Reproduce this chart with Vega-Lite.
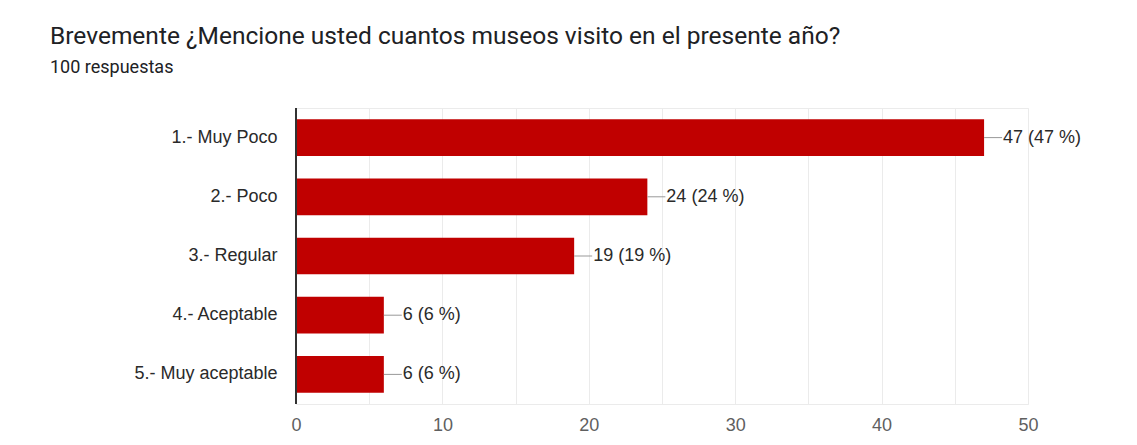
{
  "$schema": "https://vega.github.io/schema/vega-lite/v6.json",
  "width": 732,
  "height": 296,
  "autosize": {"type": "none"},
  "padding": {"left": 296, "top": 108, "right": 109, "bottom": 41},
  "background": "white",
  "title": {
    "text": "Brevemente ¿Mencione usted cuantos museos visito en el presente año?",
    "subtitle": "100 respuestas",
    "anchor": "start",
    "frame": "group",
    "dx": -246,
    "offset": 29,
    "font": "Roboto",
    "fontSize": 24.5,
    "fontWeight": "normal",
    "color": "#202124",
    "subtitleFont": "Roboto",
    "subtitleFontSize": 18,
    "subtitleColor": "#202124",
    "subtitlePadding": 10
  },
  "data": {
    "values": [
      {"categoria": "1.- Muy Poco", "n": 47, "etiqueta": "47 (47 %)"},
      {"categoria": "2.- Poco", "n": 24, "etiqueta": "24 (24 %)"},
      {"categoria": "3.- Regular", "n": 19, "etiqueta": "19 (19 %)"},
      {"categoria": "4.- Aceptable", "n": 6, "etiqueta": "6 (6 %)"},
      {"categoria": "5.- Muy aceptable", "n": 6, "etiqueta": "6 (6 %)"}
    ]
  },
  "encoding": {
    "y": {
      "field": "categoria",
      "type": "nominal",
      "sort": null,
      "title": null,
      "scale": {"paddingInner": 0.38, "paddingOuter": 0.19},
      "axis": {
        "labelFont": "Liberation Sans",
        "labelFontSize": 18,
        "labelColor": "#2a2a2a",
        "labelPadding": 19,
        "ticks": false,
        "domain": false,
        "grid": false
      }
    }
  },
  "layer": [
    {
      "mark": {"type": "bar", "color": "#c00000"},
      "encoding": {
        "x": {
          "field": "n",
          "type": "quantitative",
          "title": null,
          "scale": {"domain": [0, 50], "nice": false},
          "axis": {
            "values": [0, 5, 10, 15, 20, 25, 30, 35, 40, 45, 50],
            "labelExpr": "datum.value % 10 == 0 ? datum.label : ''",
            "labelFlush": false,
            "labelFont": "Liberation Sans",
            "labelFontSize": 18,
            "labelColor": "#5f5f5f",
            "labelPadding": 12,
            "ticks": false,
            "domain": false,
            "grid": true,
            "gridColor": "#ebebeb",
            "gridWidth": 1
          }
        }
      }
    },
    {
      "mark": {"type": "rule", "color": "#333333", "strokeWidth": 1.5},
      "encoding": {
        "x": {"datum": 0, "type": "quantitative"},
        "y": {"value": 0},
        "y2": {"value": 296}
      }
    },
    {
      "mark": {"type": "rule", "color": "#999999", "strokeWidth": 1, "x2Offset": 18},
      "encoding": {
        "x": {"field": "n", "type": "quantitative"},
        "x2": {"field": "n"}
      }
    },
    {
      "mark": {"type": "text", "align": "left", "dx": 19, "font": "Liberation Sans", "fontSize": 18, "color": "#2a2a2a"},
      "encoding": {
        "x": {"field": "n", "type": "quantitative"},
        "text": {"field": "etiqueta"}
      }
    }
  ],
  "config": {"view": {"stroke": "#ebebeb"}}
}
